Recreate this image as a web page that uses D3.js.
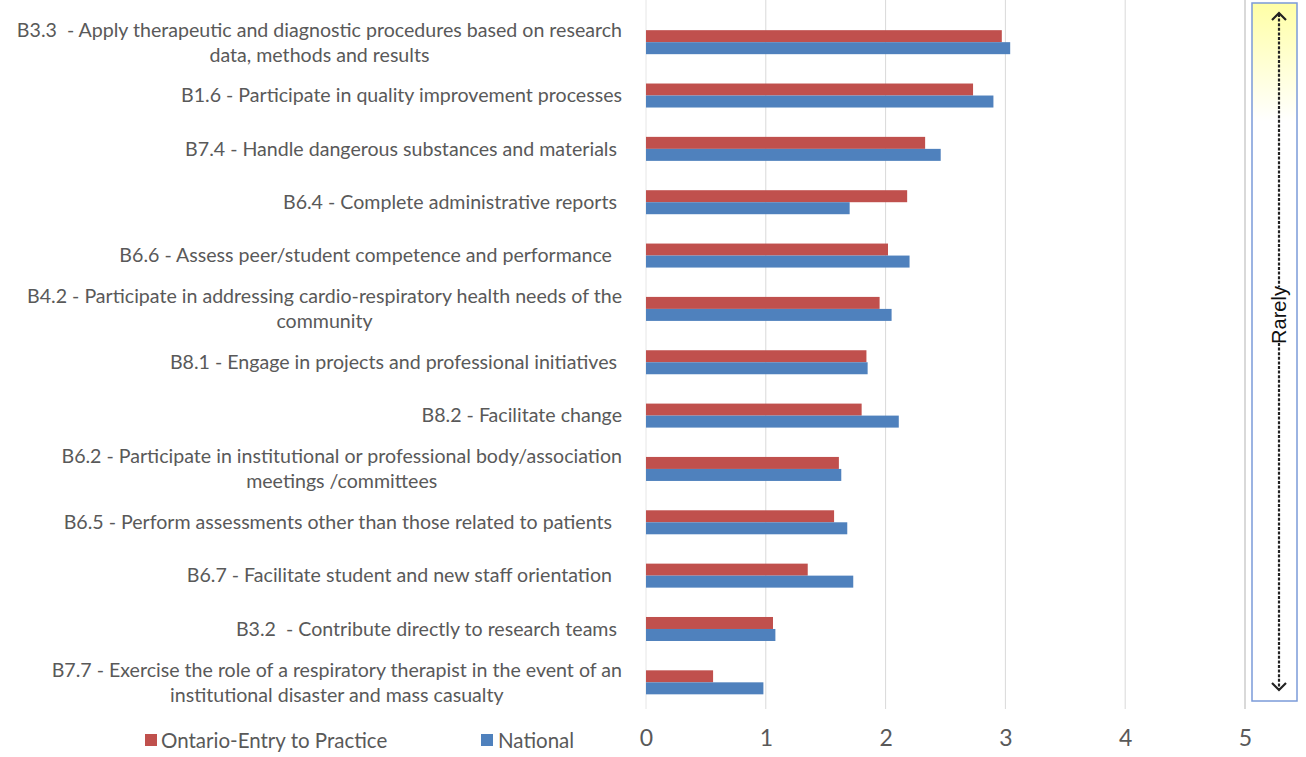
<!DOCTYPE html>
<html>
<head>
<meta charset="utf-8">
<script src="https://cdn.jsdelivr.net/npm/d3@7"></script>
<style>
  html, body { margin: 0; padding: 0; background: #fff; }
  svg { display: block; }
</style>
</head>
<body>
<svg id="chart" width="1306" height="757"></svg>
<script>
// ---- data ----
const categories = [
  ["B3.3  - Apply therapeutic and diagnostic procedures based on research", "data, methods and results"],
  ["B1.6 - Participate in quality improvement processes"],
  ["B7.4 - Handle dangerous substances and materials "],
  ["B6.4 - Complete administrative reports "],
  ["B6.6 - Assess peer/student competence and performance  "],
  ["B4.2 - Participate in addressing cardio-respiratory health needs of the", "community"],
  ["B8.1 - Engage in projects and professional initiatives "],
  ["B8.2 - Facilitate change"],
  ["B6.2 - Participate in institutional or professional body/association", "meetings /committees"],
  ["B6.5 - Perform assessments other than those related to patients  "],
  ["B6.7 - Facilitate student and new staff orientation  "],
  ["B3.2  - Contribute directly to research teams "],
  ["B7.7 - Exercise the role of a respiratory therapist in the event of an", "institutional disaster and mass casualty"]
];
const ontarioValues  = [2.97, 2.73, 2.33, 2.18, 2.02, 1.95, 1.84, 1.80, 1.61, 1.57, 1.35, 1.06, 0.56];
const nationalValues = [3.04, 2.90, 2.46, 1.70, 2.20, 2.05, 1.85, 2.11, 1.63, 1.68, 1.73, 1.08, 0.98];
const seriesNames = ["Ontario-Entry to Practice", "National"];
const seriesColors = ["#C0504D", "#4F81BD"];
const tickValues = [0, 1, 2, 3, 4, 5];
const sideLabel = "Rarely";

// ---- layout ----
const svg = d3.select("#chart");
const x = d3.scaleLinear().domain([0, 5]).range([646, 1245]);
const y = d3.scaleBand().domain(d3.range(categories.length)).range([15.5, 709]).paddingInner(0.55).paddingOuter(0.275);
const sub = d3.scaleBand().domain([0, 1]).range([0, y.bandwidth()]);

const font = "Lato, 'Open Sans', sans-serif";
const textColor = "#595959";

// gridlines
svg.append("g").selectAll("line").data(tickValues).join("line")
  .attr("x1", d => x(d)).attr("x2", d => x(d))
  .attr("y1", 0).attr("y2", 709)
  .attr("stroke", d => d === 0 ? "#e6e6e6" : "#d9d9d9")
  .attr("stroke-width", d => d === 5 ? 2 : 1);

// bars
const series = [ontarioValues, nationalValues];
series.forEach((vals, si) => {
  svg.append("g").selectAll("rect").data(vals).join("rect")
    .attr("x", x(0))
    .attr("y", (d, i) => y(i) + sub(si))
    .attr("width", d => x(d) - x(0))
    .attr("height", sub.bandwidth())
    .attr("fill", seriesColors[si]);
});

// category labels
const labelRight = 622;
const lineH = 25;
const lg = svg.append("g").attr("font-family", font).attr("font-size", 19.6).attr("fill", textColor);
categories.forEach((lines, i) => {
  const cy = y(i) + y.bandwidth() / 2;
  const t = lg.append("text").attr("text-anchor", "middle").attr("xml:space", "preserve");
  const tspans = lines.map((ln, k) => t.append("tspan")
    .attr("y", cy + (k - (lines.length - 1) / 2) * lineH)
    .attr("dy", "0.35em")
    .text(ln));
  let maxW = 0;
  tspans.forEach(ts => { maxW = Math.max(maxW, ts.node().getComputedTextLength()); });
  tspans.forEach(ts => ts.attr("x", labelRight - maxW / 2));
});

// x axis tick labels
const axis = d3.axisBottom(x).tickValues(tickValues).tickSize(0).tickPadding(0).tickFormat(d3.format("d"));
const ag = svg.append("g").attr("transform", "translate(0,730)").call(axis);
ag.select(".domain").remove();
ag.selectAll("text").attr("font-family", font).attr("font-size", 23).attr("fill", textColor);

// legend
const leg = svg.append("g").attr("font-family", font).attr("font-size", 20.5).attr("fill", textColor);
const legX = [145, 481];
seriesNames.forEach((nm, i) => {
  leg.append("rect").attr("x", legX[i]).attr("y", 734).attr("width", 12).attr("height", 12).attr("fill", seriesColors[i]);
  leg.append("text").attr("x", legX[i] + (i === 0 ? 16 : 17)).attr("y", 741).attr("dy", "0.35em").text(nm);
});

// side box with gradient and arrow
const defs = svg.append("defs");
const grad = defs.append("linearGradient").attr("id", "yg").attr("x1", 0).attr("y1", 0).attr("x2", 0).attr("y2", 1);
grad.append("stop").attr("offset", "0%").attr("stop-color", "#ffffa6");
grad.append("stop").attr("offset", "17%").attr("stop-color", "#ffffff");
grad.append("stop").attr("offset", "100%").attr("stop-color", "#ffffff");

const bx = 1252, bw = 45, by = 3, bh = 698;
svg.append("rect").attr("x", bx).attr("y", by).attr("width", bw).attr("height", bh)
  .attr("fill", "url(#yg)").attr("stroke", "#7b9bd9").attr("stroke-width", 1.5);

const ax = 1279, topY = 13, botY = 690, midY = 315;
const textHalf = 28;
const dash = "3,1.6";
svg.append("line").attr("x1", ax).attr("x2", ax).attr("y1", topY + 1).attr("y2", midY - textHalf)
  .attr("stroke", "#222").attr("stroke-width", 2.2).attr("stroke-dasharray", dash);
svg.append("line").attr("x1", ax).attr("x2", ax).attr("y1", midY + textHalf).attr("y2", botY - 1)
  .attr("stroke", "#222").attr("stroke-width", 2.2).attr("stroke-dasharray", dash);
svg.append("path").attr("d", `M${ax - 7},${topY + 7} L${ax},${topY} L${ax + 7},${topY + 7}`)
  .attr("fill", "none").attr("stroke", "#222").attr("stroke-width", 2.2);
svg.append("path").attr("d", `M${ax - 7},${botY - 7} L${ax},${botY} L${ax + 7},${botY - 7}`)
  .attr("fill", "none").attr("stroke", "#222").attr("stroke-width", 2.2);
svg.append("text").attr("transform", `translate(${ax},${midY}) rotate(-90)`)
  .attr("text-anchor", "middle").attr("dy", "0.35em")
  .attr("font-family", "'Liberation Sans', Arial, sans-serif").attr("font-size", 20).attr("fill", "#111")
  .text(sideLabel);
</script>
</body>
</html>
